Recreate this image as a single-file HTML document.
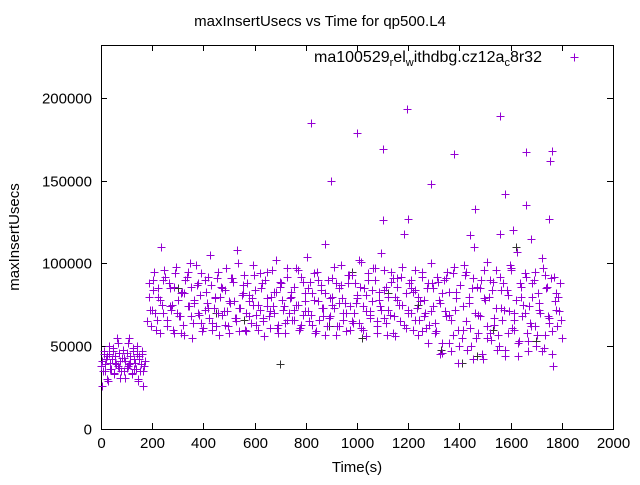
<!DOCTYPE html>
<html><head><meta charset="utf-8"><style>
body{margin:0;background:#fff;}
svg text{font-family:"Liberation Sans",sans-serif;font-size:15px;fill:#000;}
</style></head><body>
<svg id="chart" width="640" height="480">
<rect width="640" height="480" fill="#fff"/>
<text x="320" y="26" text-anchor="middle">maxInsertUsecs vs Time for qp500.L4</text>
<text transform="translate(19,237) rotate(-90)" text-anchor="middle">maxInsertUsecs</text>
<text x="357" y="472" text-anchor="middle">Time(s)</text>
<g id="axes"></g>
<g id="marks"></g>
<g>
<text x="314" y="62" style="font-size:16px">ma100529<tspan font-size="11" dy="4">r</tspan><tspan dy="-4">el</tspan><tspan font-size="11" dy="4">w</tspan><tspan dy="-4">ithdbg.cz12a</tspan><tspan font-size="11" dy="4">c</tspan><tspan dy="-4">8r32</tspan></text>
<path d="M570.5 57.5h8M574.5 53.5v8" stroke="#9400d3" stroke-width="1"/>
</g>
</svg>
<script>
const xTicks=[0,200,400,600,800,1000,1200,1400,1600,1800,2000];
const yTicks=[0,50000,100000,150000,200000];
const earlyValues=[38,26,45,35,42,30,50,40,36,47,33,44,39,52,37,41,35,48,43,31,46,38,55,40,34,49,42,36,45,29,44,39,47,35,41];
const mainValues=[65,88,72,95,60,80,110,70,92,66,85,75,58,98,68,82,63,90,74,100,55,78,87,69,94,61,83,73,105,64,
79,91,57,86,71,97,62,76,89,67,108,59,81,93,70,77,64,99,84,60,
72,88,56,95,68,80,74,102,63,86,78,58,92,70,83,66,97,75,61,89,
71,104,65,82,94,59,77,87,68,112,62,79,91,73,57,85,99,66,76,88,
60,93,70,81,64,101,74,56,90,69,84,97,62,78,106,67,86,72,95,58,
80,91,65,75,118,61,88,70,83,96,57,77,92,68,85,63,100,74,59,89,
45,82,71,95,52,66,98,79,40,87,60,93,48,76,85,110,55,69,90,42,
78,101,58,84,67,96,50,73,88,44,81,99,61,70,107,53,86,75,92,47,
64,80,95,57,72,103,49,85,68,91,38,77,62,88,55];
const mainValues2=[80,62,90,70,85,58,75,96,66,88,72,60,94,78,68,83,57,92,74,86,64,99,70,81,59,90,76,67,87,73,
62,95,80,69,84,71,58,91,77,65,100,73,82,60,88,68,79,93,63,75,
85,67,90,74,61,96,70,83,58,88,72,64,97,79,66,86,75,60,92,69,
82,71,89,63,78,95,66,84,73,57,90,68,80,98,62,76,87,70,59,93,
74,65,88,79,102,61,85,71,94,67,77,90,58,83,72,96,64,80,69,91,
56,86,75,98,63,82,70,90,60,84,73,66,95,78,61,88,71,85,58,92,
76,52,90,68,83,47,94,72,60,87,55,99,65,80,50,91,70,58,85,45,
96,62,80,54,89,73,57,92,66,48,84,71,97,60,78,52,88,68,94,58,
74,62,90,50,82,70,97,57,86,64,45,92,72,80,66];
const mainValues3=[72,84,66,78,90,62,74,86,70,58,82,95,68,76,88,64,72,92,60,80,
70,85,63,77,91,67,73,87,59,81,75,69,94,65,79,71,83,61,89,74,
66,80,72,96,63,77,85,69,58,90,73,82,67,75,88,62,79,70,93,64,
76,86,60,81,71,97,65,74,84,57,89,68,78,92,63,72,85,66,80,59,
70,52,88,64,78,46,91,69,57,83,50,74,95,61,42,86,68,79,55,90,
63,48,84,72,58,96,66,44,80,70,53,88,62,76,47,93,67,59,82,71];
const outlierTimes=[820,1000,1100,1195,1560,1660,1760,1755,900,1290,1380,1460,1580,1750,1100,1200,1610,1660,1560,1440,1680];
const outlierValues=[185,179,169,193,189,167,168,162,150,148,166,133,142,127,126,127,120,135,118,117,115];
const darkTimes=[700,890,1020,1120,1240,1330,1470,1530,1620,1700,450,560,300,980,1410];
const darkValues=[39,62,55,82,75,48,44,60,110,53,70,66,85,95,40];

const X0=101,X1=613,Y0=429,Y1=45;
const xs=t=>X0+t/2000*(X1-X0);
const ys=v=>Y0-v/231900*(Y0-Y1);
const NS="http://www.w3.org/2000/svg";
const axes=document.getElementById('axes'),marks=document.getElementById('marks');
function mk(tag,attrs,parent){const e=document.createElementNS(NS,tag);for(const k in attrs)e.setAttribute(k,attrs[k]);parent.appendChild(e);return e;}
const frame=mk('rect',{x:X0+.5,y:Y1+.5,width:X1-X0,height:Y0-Y1,fill:'none',stroke:'#000'},axes);


xTicks.forEach(t=>{const x=Math.round(xs(t))+.5;
 const p=mk('path',{d:`M${x} ${Y0}v-6M${x} ${Y1}v6`,stroke:'#000'},axes);
 
 
 const l=mk('text',{x:x,y:Y0+19,'text-anchor':'middle'},axes);l.textContent=t;
 
 });
yTicks.forEach(v=>{const y=Math.round(ys(v))+.5;
 const p=mk('path',{d:`M${X0} ${y}h6M${X1} ${y}h-6`,stroke:'#000'},axes);
 
 
 const l=mk('text',{x:X0-9,y:y+5,'text-anchor':'end'},axes);l.textContent=v;
 
 });
function plus(t,v,c){const x=Math.round(xs(t))+.5,y=Math.round(ys(v*1000))+.5;
 const p=mk('path',{d:`M${x-4} ${y}h8M${x} ${y-4}v8`,stroke:c,'stroke-width':1},marks);
 
 }
function spread(arr,t0,t1,c){const n=arr.length;arr.forEach((v,i)=>plus(t0+(t1-t0)*i/(n-1),v,c));}
darkTimes.forEach((t,i)=>plus(t,darkValues[i],'#333'));
spread(earlyValues,0,170,'#9400d3');
spread(earlyValues.slice().reverse(),3,168,'#9400d3');
spread(mainValues,180,1800,'#9400d3');
spread(mainValues2,186,1795,'#9400d3');
spread(mainValues3,190,1790,'#9400d3');
outlierTimes.forEach((t,i)=>plus(t,outlierValues[i],'#9400d3'));
</script>
</body></html>
